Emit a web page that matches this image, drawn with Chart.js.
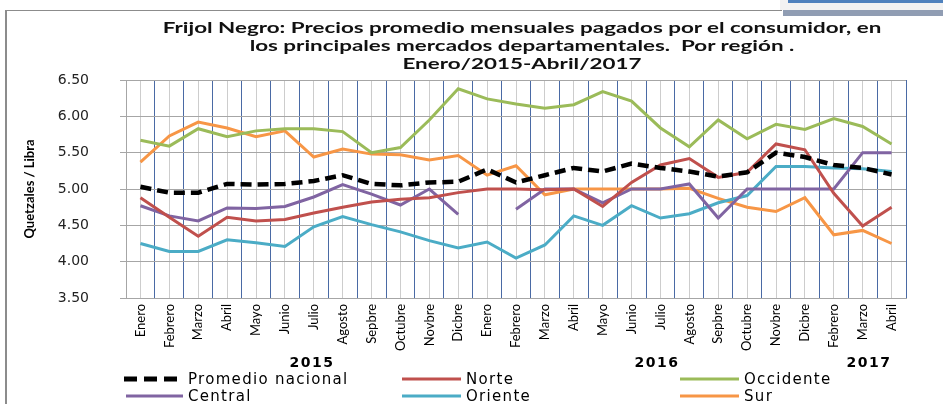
<!DOCTYPE html>
<html><head><meta charset="utf-8">
<script src="https://cdn.jsdelivr.net/npm/chart.js@4.4.1/dist/chart.umd.min.js"></script>
<style>
html,body{margin:0;padding:0;background:#fff;}
#wrap{position:relative;width:943px;height:404px;overflow:hidden;background:#fff;}
#c{position:absolute;left:0;top:0;}
.abs{position:absolute;}
#title{left:522px;top:19px;white-space:nowrap;font:bold 14.5px Lato,sans-serif;text-align:center;line-height:18px;color:#111;transform-origin:center top;}
.year{font:bold 14px "DejaVu Sans",sans-serif;letter-spacing:1.5px;color:#000;transform:translate(-50%,-50%);white-space:nowrap;}
.lt{font:15px "DejaVu Sans",sans-serif;letter-spacing:1.3px;color:#000;white-space:nowrap;transform:translateY(-50%);}
.ls{height:3px;transform:translateY(-50%);}
</style></head>
<body>
<div id="wrap">
  <div class="abs" style="left:5px;top:10px;width:777px;height:1px;background:#8c8c8c"></div>
  <div class="abs" style="left:5px;top:10px;width:2px;height:394px;background:#8c8c8c"></div>
  <div class="abs" style="left:780px;top:0;width:163px;height:10px;background:#f2f2f2"></div>
  <div class="abs" style="left:788px;top:0;width:155px;height:3px;background:#4f81bd"></div>
  <div class="abs" style="left:783px;top:10px;width:160px;height:6px;background:#909db3"></div>
  <canvas id="c" width="943" height="404"></canvas>
  <div id="title" class="abs">Frijol Negro: Precios promedio mensuales pagados por el consumidor, en<br>los principales mercados departamentales.&nbsp; Por región .<br>Enero/2015-Abril/2017</div>
  <div id="years"></div>
  <div id="legend"></div>
</div>
<script>
const categories = ['Enero','Febrero','Marzo','Abril','Mayo','Junio','Julio','Agosto','Sepbre','Octubre','Novbre','Dicbre',
  'Enero','Febrero','Marzo','Abril','Mayo','Junio','Julio','Agosto','Sepbre','Octubre','Novbre','Dicbre',
  'Febrero','Marzo','Abril'];
const promedio  = [5.03,4.95,4.95,5.07,5.06,5.07,5.11,5.19,5.07,5.05,5.09,5.10,5.27,5.09,5.19,5.29,5.24,5.35,5.29,5.24,5.17,5.23,5.50,5.44,5.33,5.29,5.20];
const norte     = [4.88,4.61,4.35,4.61,4.56,4.58,4.67,4.75,4.82,4.86,4.88,4.95,5.00,5.00,4.99,5.00,4.76,5.09,5.33,5.42,5.16,5.23,5.62,5.54,4.94,4.49,4.75];
const occidente = [5.67,5.59,5.83,5.72,5.80,5.83,5.83,5.79,5.50,5.57,5.95,6.38,6.24,6.17,6.11,6.16,6.34,6.21,5.84,5.58,5.95,5.69,5.89,5.82,5.97,5.86,5.62];
const central   = [4.77,4.63,4.56,4.74,4.73,4.76,4.89,5.06,4.93,4.78,5.00,4.65,null,4.72,5.00,5.00,4.81,5.00,5.00,5.07,4.60,5.00,5.00,5.00,5.00,5.50,5.50];
const oriente   = [4.25,4.14,4.14,4.30,4.26,4.21,4.48,4.62,4.51,4.41,4.29,4.19,4.27,4.05,4.23,4.63,4.50,4.77,4.60,4.66,4.81,4.91,5.31,5.31,5.29,5.28,5.24];
const sur       = [5.37,5.73,5.92,5.84,5.72,5.80,5.44,5.55,5.48,5.47,5.40,5.46,5.19,5.32,4.92,5.00,5.00,5.00,5.00,5.01,4.87,4.75,4.69,4.88,4.37,4.43,4.25];
const yTicks = [3.5,4.0,4.5,5.0,5.5,6.0,6.5];
const years = [['2015',312],['2016',657],['2017',869]];

const series = [
  {name:'Promedio nacional', data:promedio, color:'#000000', dash:true},
  {name:'Norte', data:norte, color:'#c0504d'},
  {name:'Occidente', data:occidente, color:'#9bbb59'},
  {name:'Central', data:central, color:'#8064a2'},
  {name:'Oriente', data:oriente, color:'#4bacc6'},
  {name:'Sur', data:sur, color:'#f79646'}
];

const t = document.getElementById('title');
const w0 = t.scrollWidth;
const k = 718 / w0;
t.style.transform = 'translateX(-50%) scaleX(' + k.toFixed(3) + ')';

const yd = document.getElementById('years');
years.forEach(([txt,x]) => {
  const d = document.createElement('div');
  d.className = 'abs year'; d.style.left = x+'px'; d.style.top = '362px'; d.textContent = txt;
  yd.appendChild(d);
});

const legPos = [[124,60,188,379],[402,59,466,379],[680,59,744,379],[126,57,188,396],[402,59,466,396],[680,59,744,396]];
const lg = document.getElementById('legend');
series.forEach((s,i) => {
  const [sx,sw,tx,cy] = legPos[i];
  const ln = document.createElement('div');
  ln.className = 'abs ls';
  ln.style.left = sx+'px'; ln.style.top = cy+'px'; ln.style.width = sw+'px';
  if (s.dash) {
    ln.style.height = '5px';
    ln.style.background = 'repeating-linear-gradient(to right,#000 0 13px,transparent 13px 20px)';
    ln.style.width = '58px';
  } else {
    ln.style.background = s.color;
  }
  lg.appendChild(ln);
  const tt = document.createElement('div');
  tt.className = 'abs lt'; tt.style.left = tx+'px'; tt.style.top = cy+'px'; tt.textContent = s.name;
  lg.appendChild(tt);
});

const datasets = series.map(s => ({
  label: s.name, data: s.data, borderColor: s.color, backgroundColor: s.color,
  borderWidth: s.dash ? 4.5 : 3, borderDash: s.dash ? [11,6] : [],
  pointRadius: 0, tension: 0, spanGaps: false, fill: false, xAxisID: 'x', yAxisID: 'y'
}));

new Chart(document.getElementById('c'), {
  type: 'line',
  data: { labels: categories, datasets },
  options: {
    responsive: false, animation: false, devicePixelRatio: 1,
    layout: { padding: { top: 80, right: 37, bottom: 0, left: 0 } },
    plugins: { legend: { display: false }, tooltip: { enabled: false }, title: { display: false } },
    scales: {
      x: {
        type: 'category', position: 'bottom', offset: true,
        grid: { offset: true, color: (c) => c.index === 0 ? '#a6a6a6' : '#4a6aa5', lineWidth: 1, drawTicks: false },
        border: { color: '#a6a6a6' },
        ticks: { autoSkip: false, minRotation: 90, maxRotation: 90, padding: 6,
                 font: { family: 'Lato', size: 13 }, color: '#000' },
        afterFit: (s) => { s.height = 106; }
      },
      x2: {
        type: 'category', position: 'top', offset: true, labels: categories,
        grid: { offset: false, color: '#cdcdcd', lineWidth: 1, drawTicks: false },
        border: { display: false },
        ticks: { display: false },
        afterFit: (s) => { s.height = 0; }
      },
      y: {
        min: 3.5, max: 6.5,
        afterBuildTicks: (s) => { s.ticks = yTicks.map(v => ({ value: v })); },
        grid: { color: '#a6a6a6', lineWidth: 1, drawTicks: true, tickLength: 6 },
        border: { color: '#a6a6a6' },
        ticks: { padding: 31, font: { family: 'DejaVu Sans', size: 14 }, color: '#222',
                 callback: (v) => Number(v).toFixed(2) },
        title: { display: true, text: 'Quetzales / Libra', color: '#000',
                 font: { family: 'Lato', size: 13, weight: 'bold' }, padding: { top: 22, bottom: 0 } },
        afterFit: (s) => { s.width = 126; }
      }
    }
  }
});
</script>
</body></html>
